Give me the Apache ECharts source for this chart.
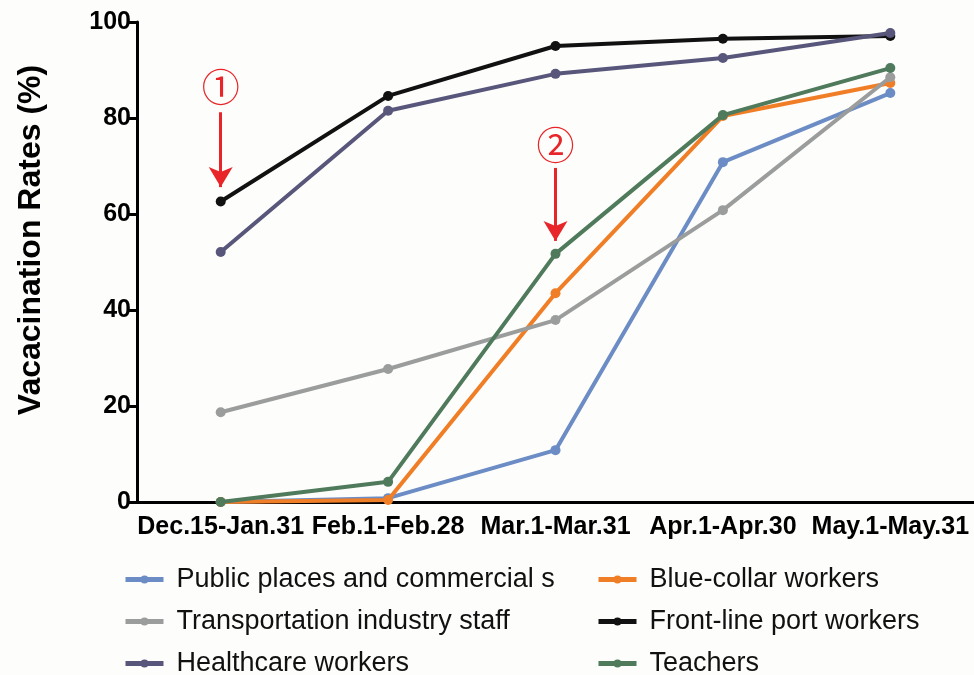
<!DOCTYPE html>
<html><head><meta charset="utf-8">
<script src="https://cdn.jsdelivr.net/npm/echarts@6/dist/echarts.min.js"></script>
<style>html,body{margin:0;padding:0;background:#fdfdfb}#c{width:974px;height:675px}</style>
</head><body><div id="c"></div>
<script>
const categories = ['Dec.15-Jan.31','Feb.1-Feb.28','Mar.1-Mar.31','Apr.1-Apr.30','May.1-May.31'];
const yTicks = [0,20,40,60,80,100];
const publicPlaces = [0, 0.8, 10.8, 70.8, 85.2];
const blueCollar = [0, 0.4, 43.5, 80.4, 87.3];
const transportation = [18.7, 27.7, 37.9, 60.8, 88.5];
const frontLine = [62.6, 84.6, 95.0, 96.5, 97.1];
const healthcare = [52.1, 81.5, 89.2, 92.5, 97.7];
const teachers = [0, 4.2, 51.7, 80.6, 90.4];
const names = ['Public places and commercial s','Blue-collar workers','Transportation industry staff','Front-line port workers','Healthcare workers','Teachers'];
const annotations = [
  {label:'①', cat:'Dec.15-Jan.31', labelY:86.5, from:81.2, to:65.6},
  {label:'②', cat:'Mar.1-Mar.31', labelY:74.4, from:69.6, to:54.4}
];

const colors = ['#6b8cc4','#f07e26','#9b9d9c','#111111','#58567a','#4f7a5b'];
const dataArr = [publicPlaces, blueCollar, transportation, frontLine, healthcare, teachers];
const chart = echarts.init(document.getElementById('c'));
const series = names.map((n,i)=>({
  name:n, type:'line', data:dataArr[i], symbol:'circle', symbolSize:10,
  lineStyle:{width:4,color:colors[i]}, itemStyle:{color:colors[i]},
  z: 2+i
}));
series.push({
  name:'annot', type:'line', data:[], silent:true,
  markPoint:{symbol:'circle', symbolSize:1, itemStyle:{color:'transparent'},
    label:{show:true, position:'inside', formatter:p=>p.name, color:'#e8262a', fontSize:38, fontFamily:'Noto Sans CJK SC'},
    data: annotations.map(a=>({name:a.label, coord:[a.cat, a.labelY]}))},
  markLine:{symbol:['none','arrow'], symbolSize:[18,20], silent:true, label:{show:false},
    lineStyle:{color:'#e8262a', width:3, type:'solid'},
    data: annotations.map(a=>[{coord:[a.cat,a.from]},{coord:[a.cat,a.to]}])}
});
const legendPos = [[118,561],[591,561],[118,603],[591,603],[118,645],[591,645]];
const legends = names.map((n,i)=>({
  left:legendPos[i][0], top:legendPos[i][1], data:[n], itemWidth:38, itemHeight:10,
  lineStyle:{width:5},
  textStyle:{fontSize:27, color:'#111', fontFamily:'Liberation Sans', padding:[0,0,0,8]}
}));
chart.setOption({
  backgroundColor:'#fdfdfb',
  animation:false,
  grid:{left:137, right:0, top:22, bottom:173, containLabel:false},
  legend:legends,
  xAxis:{type:'category', data:categories, boundaryGap:true,
    axisLine:{lineStyle:{color:'#000', width:3}},
    axisTick:{alignWithLabel:true, length:8, lineStyle:{width:3,color:'#000'}},
    axisLabel:{color:'#000', fontWeight:'bold', fontSize:25, fontFamily:'Liberation Sans', margin:13, interval:0}},
  yAxis:{type:'value', min:0, max:100, interval:20,
    name:'Vacacination Rates (%)', nameLocation:'middle', nameGap:90,
    nameTextStyle:{fontSize:32, fontWeight:'bold', color:'#000', fontFamily:'Liberation Sans', padding:[0,0,0,44]},
    axisLine:{show:true, lineStyle:{color:'#000', width:3}},
    axisTick:{show:true, length:10, lineStyle:{width:3,color:'#000'}},
    splitLine:{show:false},
    axisLabel:{color:'#000', fontWeight:'bold', fontSize:25, fontFamily:'Liberation Sans', margin:6,
      formatter:v=>yTicks.includes(v)?String(v):''}},
  series
});
</script></body></html>
